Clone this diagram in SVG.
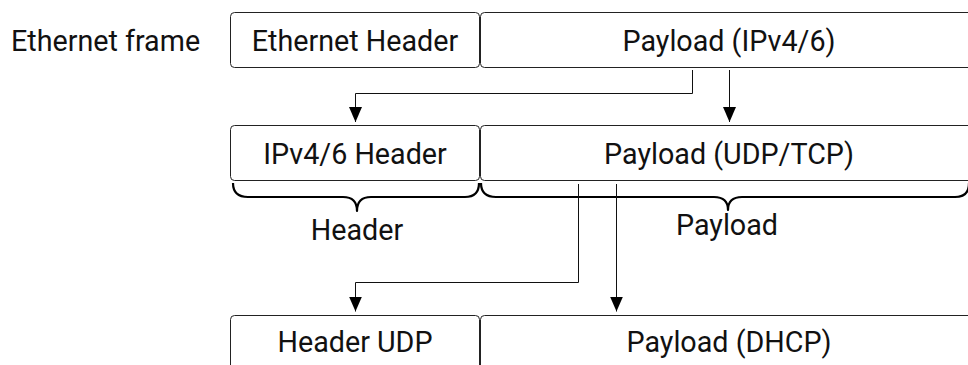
<svg xmlns="http://www.w3.org/2000/svg" width="968" height="365" viewBox="0 0 968 365">
  <defs>
    <style>
      .box { fill: #ffffff; stroke: #222222; stroke-width: 1; }
      .lbl { font-family: Roboto, "Liberation Sans", sans-serif; font-size: 28.7px; fill: #111111; text-anchor: middle; }
      .side { text-anchor: start; }
      .wire { fill: none; stroke: #111111; stroke-width: 1; }
      .brace { fill: none; stroke: #000000; stroke-width: 2.2; stroke-linejoin: round; }
    </style>
    <marker id="arrow" viewBox="0 0 15 13" refX="15" refY="6.5" markerWidth="15" markerHeight="13" markerUnits="userSpaceOnUse" orient="auto">
      <path d="M0,0 L15,6.5 L0,13 Z" fill="#000000"/>
    </marker>
  </defs>

  <rect width="968" height="365" fill="#ffffff"/>

  <text class="lbl side" x="11" y="51">Ethernet frame</text>

  <!-- Layer 2: Ethernet -->
  <g id="eth-header">
    <rect class="box" x="230.5" y="12.5" width="249" height="55" rx="4"/>
    <text class="lbl" x="355" y="51">Ethernet Header</text>
  </g>
  <g id="eth-payload">
    <rect class="box" x="480.5" y="12.5" width="498" height="55" rx="4"/>
    <text class="lbl" x="729" y="51">Payload (IPv4/6)</text>
  </g>

  <!-- Layer 3: IP -->
  <g id="ip-header">
    <rect class="box" x="230.5" y="125.5" width="249" height="55" rx="4"/>
    <text class="lbl" x="355" y="164">IPv4/6 Header</text>
  </g>
  <g id="ip-payload">
    <rect class="box" x="480.5" y="125.5" width="498" height="55" rx="4"/>
    <text class="lbl" x="729" y="164">Payload (UDP/TCP)</text>
  </g>

  <!-- Braces under the IP packet -->
  <g id="brace-header">
    <path class="brace" d="M233,183 Q233,197 248,197 L343,197 Q357,197 357,211 Q357,197 371,197 L465,197 Q479,197 479,183"/>
    <text class="lbl" x="357" y="240">Header</text>
  </g>
  <g id="brace-payload">
    <path class="brace" d="M481,183 Q481,197 496,197 L714,197 Q728,197 728,210 Q728,197 742,197 L955,197 Q969,197 969,183"/>
    <text class="lbl" x="727" y="235">Payload</text>
  </g>

  <!-- Layer 4: UDP -->
  <g id="udp-header">
    <rect class="box" x="230.5" y="315.5" width="249" height="55" rx="4"/>
    <text class="lbl" x="355" y="352">Header UDP</text>
  </g>
  <g id="udp-payload">
    <rect class="box" x="480.5" y="315.5" width="498" height="55" rx="4"/>
    <text class="lbl" x="729" y="352">Payload (DHCP)</text>
  </g>

  <!-- Encapsulation connectors -->
  <g id="connectors">
    <polyline class="wire" points="692.5,70 692.5,93.5 355.5,93.5 355.5,122" marker-end="url(#arrow)"/>
    <line class="wire" x1="729.5" y1="70" x2="729.5" y2="122" marker-end="url(#arrow)"/>
    <polyline class="wire" points="578.5,184 578.5,282.5 355.5,282.5 355.5,311.5" marker-end="url(#arrow)"/>
    <line class="wire" x1="616.5" y1="184" x2="616.5" y2="311.5" marker-end="url(#arrow)"/>
  </g>
</svg>
